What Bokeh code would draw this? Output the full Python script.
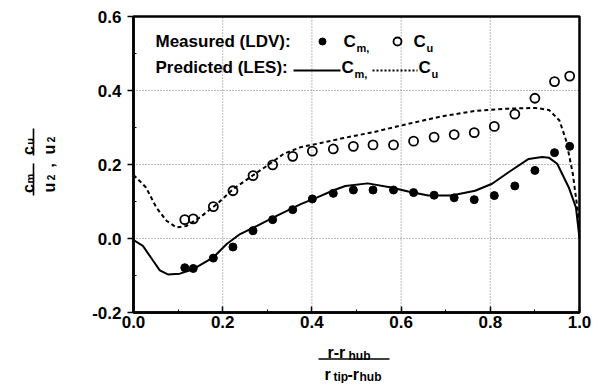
import numpy as np
from bokeh.plotting import figure
from bokeh.models import Range1d, FixedTicker, ColumnDataSource, BoxAnnotation
from bokeh.core.properties import value
from bokeh.embed import file_html
from bokeh.resources import INLINE

# ---------------- data ----------------
x_ticks = [0.0, 0.2, 0.4, 0.6, 0.8, 1.0]
x_tick_labels = ["0.0", "0.2", "0.4", "0.6", "0.8", "1.0"]
x_minor = [0.1, 0.3, 0.5, 0.7, 0.9]
y_ticks = [-0.2, 0.0, 0.2, 0.4, 0.6]
y_tick_labels = ["-0.2", "0.0", "0.2", "0.4", "0.6"]
y_minor = [-0.1, 0.1, 0.3, 0.5]

meas_r = [0.115, 0.134, 0.179, 0.223, 0.268, 0.312, 0.357, 0.401, 0.448,
          0.493, 0.537, 0.583, 0.628, 0.674, 0.719, 0.764, 0.809, 0.855,
          0.900, 0.944, 0.978]
meas_cm = [-0.079, -0.081, -0.053, -0.023, 0.021, 0.051, 0.078, 0.107, 0.122,
           0.131, 0.131, 0.131, 0.124, 0.117, 0.110, 0.105, 0.116, 0.142,
           0.184, 0.232, 0.249]
meas_cu = [0.051, 0.053, 0.086, 0.129, 0.170, 0.199, 0.222, 0.236, 0.242,
           0.249, 0.253, 0.253, 0.263, 0.274, 0.281, 0.286, 0.303, 0.336,
           0.379, 0.424, 0.439]

les_cm_r = [0.0, 0.021, 0.044, 0.059, 0.077, 0.104, 0.134, 0.179, 0.209, 0.239,
            0.277, 0.322, 0.375, 0.412, 0.450, 0.475, 0.525, 0.578, 0.616,
            0.661, 0.713, 0.766, 0.804, 0.841, 0.886, 0.916, 0.932, 0.950,
            0.976, 0.992, 1.0]
les_cm = [-0.004, -0.020, -0.060, -0.086, -0.097, -0.095, -0.083, -0.051, -0.015,
          0.012, 0.034, 0.062, 0.093, 0.111, 0.131, 0.142, 0.149, 0.138, 0.127,
          0.116, 0.116, 0.129, 0.148, 0.179, 0.215, 0.220, 0.218, 0.202,
          0.138, 0.084, 0.0]

les_cu_r = [0.0, 0.028, 0.051, 0.074, 0.096, 0.119, 0.149, 0.187, 0.224, 0.262,
            0.300, 0.337, 0.375, 0.412, 0.465, 0.540, 0.616, 0.691, 0.766,
            0.841, 0.902, 0.932, 0.955, 0.970, 0.985, 0.996, 1.0]
les_cu = [0.172, 0.138, 0.084, 0.048, 0.030, 0.034, 0.057, 0.093, 0.134, 0.166,
          0.197, 0.229, 0.247, 0.256, 0.270, 0.288, 0.310, 0.330, 0.345,
          0.351, 0.353, 0.347, 0.319, 0.265, 0.175, 0.075, 0.010]

# ---------------- geometry (page pixels) ----------------
W, H = 591, 383
FX0, FX1, FY0, FY1 = 133, 579, 16, 312   # plot box on the page
XA, XB, YA, YB = x_ticks[0], x_ticks[-1], y_ticks[0], y_ticks[-1]
FONT = "Liberation Sans"


def dx(px):
    return XA + (px - FX0) / (FX1 - FX0) * (XB - XA)


def dy(py):
    return YB - (py - FY0) / (FY1 - FY0) * (YB - YA)


p = figure(width=W, height=H, x_range=Range1d(dx(0), dx(W)),
           y_range=Range1d(dy(H), dy(0)), output_backend="svg",
           toolbar_location=None, title=None, min_border=0,
           outline_line_color=None,
           background_fill_color="white", border_fill_color="white")
p.xgrid.visible = False
p.ygrid.visible = False

# axes pinned to the plot box
p.xaxis.fixed_location = YA
p.yaxis.fixed_location = XA
p.xaxis.bounds = (XA, XB)
p.yaxis.bounds = (YA, YB)
p.xaxis.ticker = FixedTicker(ticks=x_ticks, minor_ticks=x_minor)
p.yaxis.ticker = FixedTicker(ticks=y_ticks, minor_ticks=y_minor)
p.xaxis.major_label_overrides = dict(zip(x_ticks, x_tick_labels))
p.yaxis.major_label_overrides = dict(zip(y_ticks, y_tick_labels))

for ax in (p.xaxis[0], p.yaxis[0]):
    ax.axis_line_width = 2.5
    ax.axis_line_color = "black"
    ax.major_tick_line_width = 1.5
    ax.minor_tick_line_width = 1
    ax.major_label_text_font = FONT
    ax.major_label_text_font_style = "bold"
    ax.major_label_text_font_size = "17px"
    ax.major_label_text_color = "black"

p.xaxis.major_tick_in = 6
p.xaxis.major_tick_out = 0
p.xaxis.minor_tick_in = 3
p.xaxis.minor_tick_out = 0
p.xaxis.major_label_standoff = 3
p.yaxis.major_tick_in = 0
p.yaxis.major_tick_out = 6
p.yaxis.minor_tick_in = 3
p.yaxis.minor_tick_out = 0
p.yaxis.major_label_standoff = 6

# dotted grid inside the box, at the inner ticks
gx = x_ticks[1:-1]
gy = y_ticks[1:-1]
p.segment(x0=gx, y0=[YA] * len(gx), x1=gx, y1=[YB] * len(gx),
          line_color="#777777", line_dash="1 2", line_width=1)
p.segment(x0=[XA] * len(gy), y0=gy, x1=[XB] * len(gy), y1=gy,
          line_color="#777777", line_dash="1 2", line_width=1)

# frame box
p.add_layout(BoxAnnotation(left=XA, right=XB, bottom=YA, top=YB,
                           fill_color=None, line_color="black",
                           line_width=2.5, line_alpha=1.0))

# data
p.line(les_cm_r, les_cm, line_color="black", line_width=2)
p.line(les_cu_r, les_cu, line_color="black", line_width=2, line_dash="4 3")
p.scatter(meas_r, meas_cm, marker="circle", size=8, fill_color="black",
          line_color="black")
p.scatter(meas_r, meas_cu, marker="circle", size=9, fill_color=None,
          line_color="black", line_width=1.8)


def texts(xs, ys, ss, fs, align="left", baseline="middle", angle=0.0):
    src = ColumnDataSource(dict(x=[dx(v) for v in xs], y=[dy(v) for v in ys],
                                text=ss, fs=fs))
    p.text(x="x", y="y", text="text", source=src, angle=angle,
           text_font=value(FONT), text_font_style="bold",
           text_font_size="fs", text_align=align, text_baseline=baseline,
           text_color="black")


# legend block inside the plot (page positions)
texts([155, 155, 343, 356, 413, 426, 341, 354, 418, 431],
      [41, 67, 41, 47, 41, 47, 67, 73, 67, 73],
      ["Measured (LDV):", "Predicted (LES):", "C", "m,", "C", "u",
       "C", "m,", "C", "u"],
      ["17px", "17px", "17px", "11px", "17px", "11px",
       "17px", "11px", "17px", "11px"])
p.scatter([dx(322)], [dy(41)], marker="circle", size=7, fill_color="black",
          line_color="black")
p.scatter([dx(397)], [dy(41)], marker="circle", size=8, fill_color=None,
          line_color="black", line_width=1.8)
p.line([dx(293), dx(340)], [dy(70), dy(70)], line_color="black", line_width=1.8)
p.line([dx(372), dx(417)], [dy(70), dy(70)], line_color="black", line_width=1.8,
       line_dash="2 2")

# y-axis title: two rotated fractions (baseline x, centre y on the page)
texts([28, 29, 49, 50, 48, 28, 29, 49, 50],
      [188, 178, 187, 177, 165, 150, 141, 149, 139],
      ["c", "m", "u", "2", ",", "c", "u", "u", "2"],
      ["16px", "11px", "16px", "10px", "15px", "16px", "11px", "16px", "10px"],
      align="center", baseline="alphabetic", angle=np.pi / 2)
p.segment(x0=[dx(33), dx(33)], y0=[dy(163), dy(128)],
          x1=[dx(33), dx(33)], y1=[dy(195), dy(155)],
          line_color="black", line_width=1.6)

# x-axis title: fraction (left x, baseline y on the page)
texts([327, 348, 324, 333, 347, 359],
      [352, 355, 374, 376, 374, 376],
      ["r-r", "hub", "r", "tip", "-r", "hub"],
      ["16px", "12px", "16px", "12px", "16px", "12px"],
      baseline="alphabetic")
p.segment(x0=[dx(318)], y0=[dy(358.5)], x1=[dx(389)], y1=[dy(358.5)],
          line_color="black", line_width=1.5)

open("out.html", "w").write(file_html(p, INLINE))
